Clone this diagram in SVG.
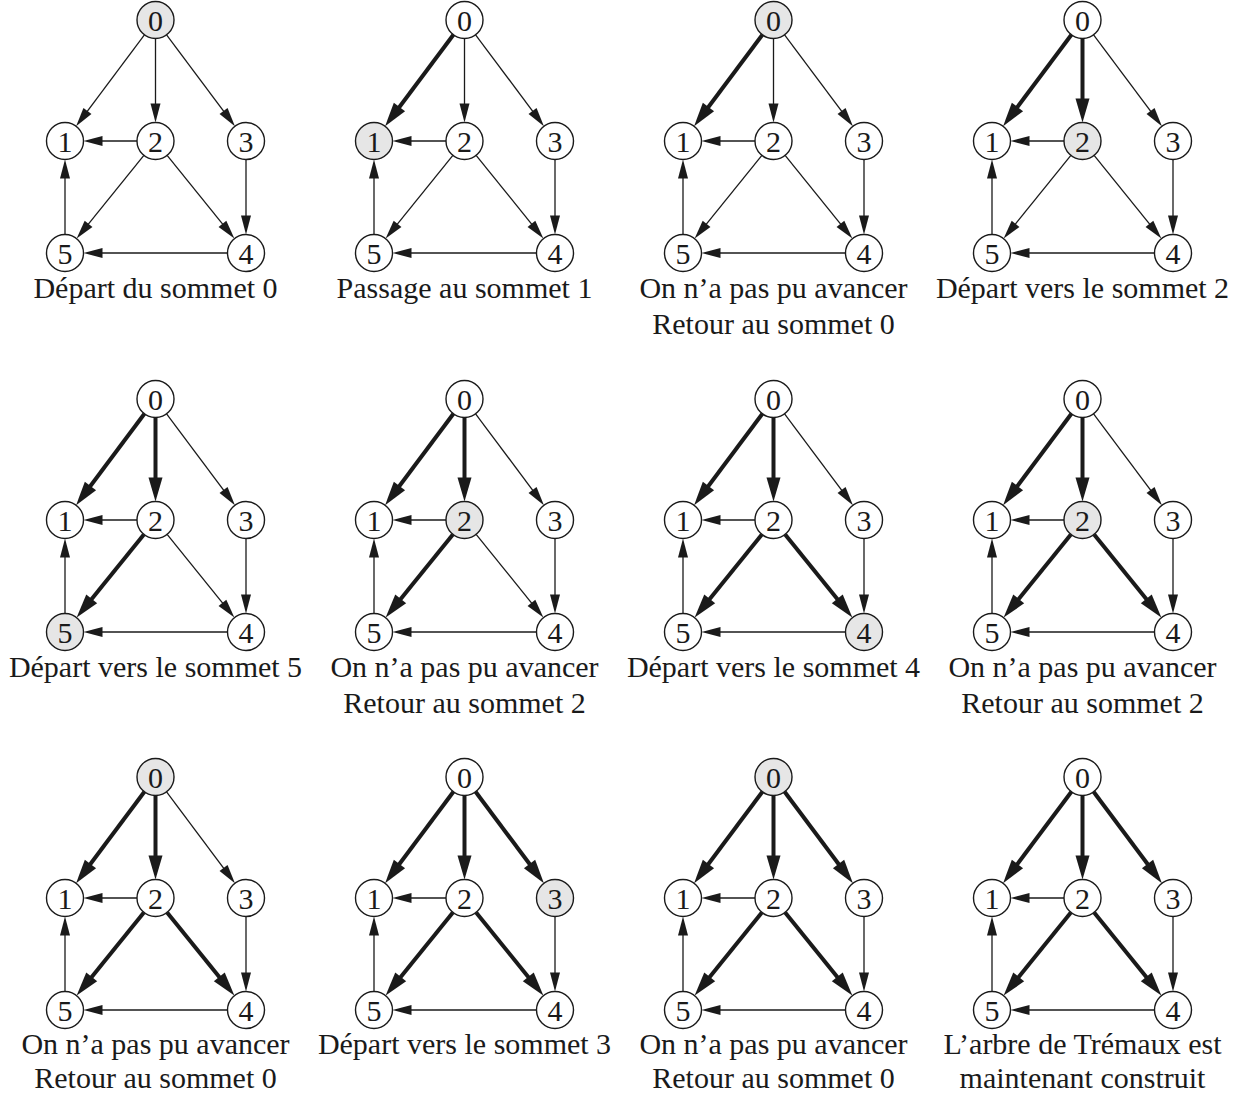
<svg xmlns="http://www.w3.org/2000/svg" width="1235" height="1095" viewBox="0 0 1235 1095">
<defs>
<style>
.bg{fill:#ffffff}
.edges line{stroke:#1a1a1a;stroke-width:1.3;fill:none;marker-end:url(#ah)}
.edges line.b{stroke-width:4;marker-end:url(#ahb)}
.node circle{fill:#ffffff;stroke:#1a1a1a;stroke-width:1.4}
.node.hl circle{fill:#e6e6e6}
.node text{font-family:"Liberation Serif","DejaVu Serif",serif;font-size:30px;fill:#1a1a1a;text-anchor:middle}
.lbl{font-family:"Liberation Serif","DejaVu Serif",serif;font-size:30px;fill:#1a1a1a;text-anchor:middle}
</style>
<marker id="ah" markerUnits="userSpaceOnUse" markerWidth="20" markerHeight="10" refX="1" refY="5" orient="auto" overflow="visible"><path d="M0,0 L19,5 L0,10 z" fill="#1a1a1a"/></marker>
<marker id="ahb" markerUnits="userSpaceOnUse" markerWidth="24" markerHeight="14" refX="1" refY="7" orient="auto" overflow="visible"><path d="M0,0 L24,7 L0,14 z" fill="#1a1a1a"/></marker>
</defs>
<rect class="bg" x="0" y="0" width="1235" height="1095"/>

<!-- Panel 1 -->
<g id="panel1" transform="translate(0,0)">
<g id="panel1-connectors" class="edges">
<line x1="144.42" y1="34.81" x2="86.86" y2="111.78"/>
<line x1="155.5" y1="38.5" x2="155.5" y2="104.5"/>
<line x1="166.58" y1="34.81" x2="224.14" y2="111.78"/>
<line x1="137" y1="141" x2="101.5" y2="141"/>
<line x1="143.87" y1="155.39" x2="87.94" y2="224.61"/>
<line x1="167.13" y1="155.39" x2="223.06" y2="224.61"/>
<line x1="246" y1="159.5" x2="246" y2="216.5"/>
<line x1="65" y1="234.5" x2="65" y2="177.5"/>
<line x1="227.5" y1="253" x2="101.5" y2="253"/>
</g>
<g id="panel1-node0" class="node hl"><circle cx="155.5" cy="20" r="18.5"/><text x="155.5" y="30.5">0</text></g>
<g id="panel1-node1" class="node"><circle cx="65" cy="141" r="18.5"/><text x="65" y="151.5">1</text></g>
<g id="panel1-node2" class="node"><circle cx="155.5" cy="141" r="18.5"/><text x="155.5" y="151.5">2</text></g>
<g id="panel1-node3" class="node"><circle cx="246" cy="141" r="18.5"/><text x="246" y="151.5">3</text></g>
<g id="panel1-node4" class="node"><circle cx="246" cy="253" r="18.5"/><text x="246" y="263.5">4</text></g>
<g id="panel1-node5" class="node"><circle cx="65" cy="253" r="18.5"/><text x="65" y="263.5">5</text></g>
<text class="lbl" x="155.5" y="298">Départ du sommet 0</text>
</g>

<!-- Panel 2 -->
<g id="panel2" transform="translate(309,0)">
<g id="panel2-connectors" class="edges">
<line class="b" x1="144.42" y1="34.81" x2="89.86" y2="107.77"/>
<line x1="155.5" y1="38.5" x2="155.5" y2="104.5"/>
<line x1="166.58" y1="34.81" x2="224.14" y2="111.78"/>
<line x1="137" y1="141" x2="101.5" y2="141"/>
<line x1="143.87" y1="155.39" x2="87.94" y2="224.61"/>
<line x1="167.13" y1="155.39" x2="223.06" y2="224.61"/>
<line x1="246" y1="159.5" x2="246" y2="216.5"/>
<line x1="65" y1="234.5" x2="65" y2="177.5"/>
<line x1="227.5" y1="253" x2="101.5" y2="253"/>
</g>
<g id="panel2-node0" class="node"><circle cx="155.5" cy="20" r="18.5"/><text x="155.5" y="30.5">0</text></g>
<g id="panel2-node1" class="node hl"><circle cx="65" cy="141" r="18.5"/><text x="65" y="151.5">1</text></g>
<g id="panel2-node2" class="node"><circle cx="155.5" cy="141" r="18.5"/><text x="155.5" y="151.5">2</text></g>
<g id="panel2-node3" class="node"><circle cx="246" cy="141" r="18.5"/><text x="246" y="151.5">3</text></g>
<g id="panel2-node4" class="node"><circle cx="246" cy="253" r="18.5"/><text x="246" y="263.5">4</text></g>
<g id="panel2-node5" class="node"><circle cx="65" cy="253" r="18.5"/><text x="65" y="263.5">5</text></g>
<text class="lbl" x="155.5" y="298">Passage au sommet 1</text>
</g>

<!-- Panel 3 -->
<g id="panel3" transform="translate(618,0)">
<g id="panel3-connectors" class="edges">
<line class="b" x1="144.42" y1="34.81" x2="89.86" y2="107.77"/>
<line x1="155.5" y1="38.5" x2="155.5" y2="104.5"/>
<line x1="166.58" y1="34.81" x2="224.14" y2="111.78"/>
<line x1="137" y1="141" x2="101.5" y2="141"/>
<line x1="143.87" y1="155.39" x2="87.94" y2="224.61"/>
<line x1="167.13" y1="155.39" x2="223.06" y2="224.61"/>
<line x1="246" y1="159.5" x2="246" y2="216.5"/>
<line x1="65" y1="234.5" x2="65" y2="177.5"/>
<line x1="227.5" y1="253" x2="101.5" y2="253"/>
</g>
<g id="panel3-node0" class="node hl"><circle cx="155.5" cy="20" r="18.5"/><text x="155.5" y="30.5">0</text></g>
<g id="panel3-node1" class="node"><circle cx="65" cy="141" r="18.5"/><text x="65" y="151.5">1</text></g>
<g id="panel3-node2" class="node"><circle cx="155.5" cy="141" r="18.5"/><text x="155.5" y="151.5">2</text></g>
<g id="panel3-node3" class="node"><circle cx="246" cy="141" r="18.5"/><text x="246" y="151.5">3</text></g>
<g id="panel3-node4" class="node"><circle cx="246" cy="253" r="18.5"/><text x="246" y="263.5">4</text></g>
<g id="panel3-node5" class="node"><circle cx="65" cy="253" r="18.5"/><text x="65" y="263.5">5</text></g>
<text class="lbl" x="155.5" y="298">On n’a pas pu avancer</text>
<text class="lbl" x="155.5" y="334">Retour au sommet 0</text>
</g>

<!-- Panel 4 -->
<g id="panel4" transform="translate(927,0)">
<g id="panel4-connectors" class="edges">
<line class="b" x1="144.42" y1="34.81" x2="89.86" y2="107.77"/>
<line class="b" x1="155.5" y1="38.5" x2="155.5" y2="99.5"/>
<line x1="166.58" y1="34.81" x2="224.14" y2="111.78"/>
<line x1="137" y1="141" x2="101.5" y2="141"/>
<line x1="143.87" y1="155.39" x2="87.94" y2="224.61"/>
<line x1="167.13" y1="155.39" x2="223.06" y2="224.61"/>
<line x1="246" y1="159.5" x2="246" y2="216.5"/>
<line x1="65" y1="234.5" x2="65" y2="177.5"/>
<line x1="227.5" y1="253" x2="101.5" y2="253"/>
</g>
<g id="panel4-node0" class="node"><circle cx="155.5" cy="20" r="18.5"/><text x="155.5" y="30.5">0</text></g>
<g id="panel4-node1" class="node"><circle cx="65" cy="141" r="18.5"/><text x="65" y="151.5">1</text></g>
<g id="panel4-node2" class="node hl"><circle cx="155.5" cy="141" r="18.5"/><text x="155.5" y="151.5">2</text></g>
<g id="panel4-node3" class="node"><circle cx="246" cy="141" r="18.5"/><text x="246" y="151.5">3</text></g>
<g id="panel4-node4" class="node"><circle cx="246" cy="253" r="18.5"/><text x="246" y="263.5">4</text></g>
<g id="panel4-node5" class="node"><circle cx="65" cy="253" r="18.5"/><text x="65" y="263.5">5</text></g>
<text class="lbl" x="155.5" y="298">Départ vers le sommet 2</text>
</g>

<!-- Panel 5 -->
<g id="panel5" transform="translate(0,379)">
<g id="panel5-connectors" class="edges">
<line class="b" x1="144.42" y1="34.81" x2="89.86" y2="107.77"/>
<line class="b" x1="155.5" y1="38.5" x2="155.5" y2="99.5"/>
<line x1="166.58" y1="34.81" x2="224.14" y2="111.78"/>
<line x1="137" y1="141" x2="101.5" y2="141"/>
<line class="b" x1="143.87" y1="155.39" x2="91.09" y2="220.72"/>
<line x1="167.13" y1="155.39" x2="223.06" y2="224.61"/>
<line x1="246" y1="159.5" x2="246" y2="216.5"/>
<line x1="65" y1="234.5" x2="65" y2="177.5"/>
<line x1="227.5" y1="253" x2="101.5" y2="253"/>
</g>
<g id="panel5-node0" class="node"><circle cx="155.5" cy="20" r="18.5"/><text x="155.5" y="30.5">0</text></g>
<g id="panel5-node1" class="node"><circle cx="65" cy="141" r="18.5"/><text x="65" y="151.5">1</text></g>
<g id="panel5-node2" class="node"><circle cx="155.5" cy="141" r="18.5"/><text x="155.5" y="151.5">2</text></g>
<g id="panel5-node3" class="node"><circle cx="246" cy="141" r="18.5"/><text x="246" y="151.5">3</text></g>
<g id="panel5-node4" class="node"><circle cx="246" cy="253" r="18.5"/><text x="246" y="263.5">4</text></g>
<g id="panel5-node5" class="node hl"><circle cx="65" cy="253" r="18.5"/><text x="65" y="263.5">5</text></g>
<text class="lbl" x="155.5" y="298">Départ vers le sommet 5</text>
</g>

<!-- Panel 6 -->
<g id="panel6" transform="translate(309,379)">
<g id="panel6-connectors" class="edges">
<line class="b" x1="144.42" y1="34.81" x2="89.86" y2="107.77"/>
<line class="b" x1="155.5" y1="38.5" x2="155.5" y2="99.5"/>
<line x1="166.58" y1="34.81" x2="224.14" y2="111.78"/>
<line x1="137" y1="141" x2="101.5" y2="141"/>
<line class="b" x1="143.87" y1="155.39" x2="91.09" y2="220.72"/>
<line x1="167.13" y1="155.39" x2="223.06" y2="224.61"/>
<line x1="246" y1="159.5" x2="246" y2="216.5"/>
<line x1="65" y1="234.5" x2="65" y2="177.5"/>
<line x1="227.5" y1="253" x2="101.5" y2="253"/>
</g>
<g id="panel6-node0" class="node"><circle cx="155.5" cy="20" r="18.5"/><text x="155.5" y="30.5">0</text></g>
<g id="panel6-node1" class="node"><circle cx="65" cy="141" r="18.5"/><text x="65" y="151.5">1</text></g>
<g id="panel6-node2" class="node hl"><circle cx="155.5" cy="141" r="18.5"/><text x="155.5" y="151.5">2</text></g>
<g id="panel6-node3" class="node"><circle cx="246" cy="141" r="18.5"/><text x="246" y="151.5">3</text></g>
<g id="panel6-node4" class="node"><circle cx="246" cy="253" r="18.5"/><text x="246" y="263.5">4</text></g>
<g id="panel6-node5" class="node"><circle cx="65" cy="253" r="18.5"/><text x="65" y="263.5">5</text></g>
<text class="lbl" x="155.5" y="298">On n’a pas pu avancer</text>
<text class="lbl" x="155.5" y="334">Retour au sommet 2</text>
</g>

<!-- Panel 7 -->
<g id="panel7" transform="translate(618,379)">
<g id="panel7-connectors" class="edges">
<line class="b" x1="144.42" y1="34.81" x2="89.86" y2="107.77"/>
<line class="b" x1="155.5" y1="38.5" x2="155.5" y2="99.5"/>
<line x1="166.58" y1="34.81" x2="224.14" y2="111.78"/>
<line x1="137" y1="141" x2="101.5" y2="141"/>
<line class="b" x1="143.87" y1="155.39" x2="91.09" y2="220.72"/>
<line class="b" x1="167.13" y1="155.39" x2="219.91" y2="220.72"/>
<line x1="246" y1="159.5" x2="246" y2="216.5"/>
<line x1="65" y1="234.5" x2="65" y2="177.5"/>
<line x1="227.5" y1="253" x2="101.5" y2="253"/>
</g>
<g id="panel7-node0" class="node"><circle cx="155.5" cy="20" r="18.5"/><text x="155.5" y="30.5">0</text></g>
<g id="panel7-node1" class="node"><circle cx="65" cy="141" r="18.5"/><text x="65" y="151.5">1</text></g>
<g id="panel7-node2" class="node"><circle cx="155.5" cy="141" r="18.5"/><text x="155.5" y="151.5">2</text></g>
<g id="panel7-node3" class="node"><circle cx="246" cy="141" r="18.5"/><text x="246" y="151.5">3</text></g>
<g id="panel7-node4" class="node hl"><circle cx="246" cy="253" r="18.5"/><text x="246" y="263.5">4</text></g>
<g id="panel7-node5" class="node"><circle cx="65" cy="253" r="18.5"/><text x="65" y="263.5">5</text></g>
<text class="lbl" x="155.5" y="298">Départ vers le sommet 4</text>
</g>

<!-- Panel 8 -->
<g id="panel8" transform="translate(927,379)">
<g id="panel8-connectors" class="edges">
<line class="b" x1="144.42" y1="34.81" x2="89.86" y2="107.77"/>
<line class="b" x1="155.5" y1="38.5" x2="155.5" y2="99.5"/>
<line x1="166.58" y1="34.81" x2="224.14" y2="111.78"/>
<line x1="137" y1="141" x2="101.5" y2="141"/>
<line class="b" x1="143.87" y1="155.39" x2="91.09" y2="220.72"/>
<line class="b" x1="167.13" y1="155.39" x2="219.91" y2="220.72"/>
<line x1="246" y1="159.5" x2="246" y2="216.5"/>
<line x1="65" y1="234.5" x2="65" y2="177.5"/>
<line x1="227.5" y1="253" x2="101.5" y2="253"/>
</g>
<g id="panel8-node0" class="node"><circle cx="155.5" cy="20" r="18.5"/><text x="155.5" y="30.5">0</text></g>
<g id="panel8-node1" class="node"><circle cx="65" cy="141" r="18.5"/><text x="65" y="151.5">1</text></g>
<g id="panel8-node2" class="node hl"><circle cx="155.5" cy="141" r="18.5"/><text x="155.5" y="151.5">2</text></g>
<g id="panel8-node3" class="node"><circle cx="246" cy="141" r="18.5"/><text x="246" y="151.5">3</text></g>
<g id="panel8-node4" class="node"><circle cx="246" cy="253" r="18.5"/><text x="246" y="263.5">4</text></g>
<g id="panel8-node5" class="node"><circle cx="65" cy="253" r="18.5"/><text x="65" y="263.5">5</text></g>
<text class="lbl" x="155.5" y="298">On n’a pas pu avancer</text>
<text class="lbl" x="155.5" y="334">Retour au sommet 2</text>
</g>

<!-- Panel 9 -->
<g id="panel9" transform="translate(0,757)">
<g id="panel9-connectors" class="edges">
<line class="b" x1="144.42" y1="34.81" x2="89.86" y2="107.77"/>
<line class="b" x1="155.5" y1="38.5" x2="155.5" y2="99.5"/>
<line x1="166.58" y1="34.81" x2="224.14" y2="111.78"/>
<line x1="137" y1="141" x2="101.5" y2="141"/>
<line class="b" x1="143.87" y1="155.39" x2="91.09" y2="220.72"/>
<line class="b" x1="167.13" y1="155.39" x2="219.91" y2="220.72"/>
<line x1="246" y1="159.5" x2="246" y2="216.5"/>
<line x1="65" y1="234.5" x2="65" y2="177.5"/>
<line x1="227.5" y1="253" x2="101.5" y2="253"/>
</g>
<g id="panel9-node0" class="node hl"><circle cx="155.5" cy="20" r="18.5"/><text x="155.5" y="30.5">0</text></g>
<g id="panel9-node1" class="node"><circle cx="65" cy="141" r="18.5"/><text x="65" y="151.5">1</text></g>
<g id="panel9-node2" class="node"><circle cx="155.5" cy="141" r="18.5"/><text x="155.5" y="151.5">2</text></g>
<g id="panel9-node3" class="node"><circle cx="246" cy="141" r="18.5"/><text x="246" y="151.5">3</text></g>
<g id="panel9-node4" class="node"><circle cx="246" cy="253" r="18.5"/><text x="246" y="263.5">4</text></g>
<g id="panel9-node5" class="node"><circle cx="65" cy="253" r="18.5"/><text x="65" y="263.5">5</text></g>
<text class="lbl" x="155.5" y="297">On n’a pas pu avancer</text>
<text class="lbl" x="155.5" y="331">Retour au sommet 0</text>
</g>

<!-- Panel 10 -->
<g id="panel10" transform="translate(309,757)">
<g id="panel10-connectors" class="edges">
<line class="b" x1="144.42" y1="34.81" x2="89.86" y2="107.77"/>
<line class="b" x1="155.5" y1="38.5" x2="155.5" y2="99.5"/>
<line class="b" x1="166.58" y1="34.81" x2="221.14" y2="107.77"/>
<line x1="137" y1="141" x2="101.5" y2="141"/>
<line class="b" x1="143.87" y1="155.39" x2="91.09" y2="220.72"/>
<line class="b" x1="167.13" y1="155.39" x2="219.91" y2="220.72"/>
<line x1="246" y1="159.5" x2="246" y2="216.5"/>
<line x1="65" y1="234.5" x2="65" y2="177.5"/>
<line x1="227.5" y1="253" x2="101.5" y2="253"/>
</g>
<g id="panel10-node0" class="node"><circle cx="155.5" cy="20" r="18.5"/><text x="155.5" y="30.5">0</text></g>
<g id="panel10-node1" class="node"><circle cx="65" cy="141" r="18.5"/><text x="65" y="151.5">1</text></g>
<g id="panel10-node2" class="node"><circle cx="155.5" cy="141" r="18.5"/><text x="155.5" y="151.5">2</text></g>
<g id="panel10-node3" class="node hl"><circle cx="246" cy="141" r="18.5"/><text x="246" y="151.5">3</text></g>
<g id="panel10-node4" class="node"><circle cx="246" cy="253" r="18.5"/><text x="246" y="263.5">4</text></g>
<g id="panel10-node5" class="node"><circle cx="65" cy="253" r="18.5"/><text x="65" y="263.5">5</text></g>
<text class="lbl" x="155.5" y="297">Départ vers le sommet 3</text>
</g>

<!-- Panel 11 -->
<g id="panel11" transform="translate(618,757)">
<g id="panel11-connectors" class="edges">
<line class="b" x1="144.42" y1="34.81" x2="89.86" y2="107.77"/>
<line class="b" x1="155.5" y1="38.5" x2="155.5" y2="99.5"/>
<line class="b" x1="166.58" y1="34.81" x2="221.14" y2="107.77"/>
<line x1="137" y1="141" x2="101.5" y2="141"/>
<line class="b" x1="143.87" y1="155.39" x2="91.09" y2="220.72"/>
<line class="b" x1="167.13" y1="155.39" x2="219.91" y2="220.72"/>
<line x1="246" y1="159.5" x2="246" y2="216.5"/>
<line x1="65" y1="234.5" x2="65" y2="177.5"/>
<line x1="227.5" y1="253" x2="101.5" y2="253"/>
</g>
<g id="panel11-node0" class="node hl"><circle cx="155.5" cy="20" r="18.5"/><text x="155.5" y="30.5">0</text></g>
<g id="panel11-node1" class="node"><circle cx="65" cy="141" r="18.5"/><text x="65" y="151.5">1</text></g>
<g id="panel11-node2" class="node"><circle cx="155.5" cy="141" r="18.5"/><text x="155.5" y="151.5">2</text></g>
<g id="panel11-node3" class="node"><circle cx="246" cy="141" r="18.5"/><text x="246" y="151.5">3</text></g>
<g id="panel11-node4" class="node"><circle cx="246" cy="253" r="18.5"/><text x="246" y="263.5">4</text></g>
<g id="panel11-node5" class="node"><circle cx="65" cy="253" r="18.5"/><text x="65" y="263.5">5</text></g>
<text class="lbl" x="155.5" y="297">On n’a pas pu avancer</text>
<text class="lbl" x="155.5" y="331">Retour au sommet 0</text>
</g>

<!-- Panel 12 -->
<g id="panel12" transform="translate(927,757)">
<g id="panel12-connectors" class="edges">
<line class="b" x1="144.42" y1="34.81" x2="89.86" y2="107.77"/>
<line class="b" x1="155.5" y1="38.5" x2="155.5" y2="99.5"/>
<line class="b" x1="166.58" y1="34.81" x2="221.14" y2="107.77"/>
<line x1="137" y1="141" x2="101.5" y2="141"/>
<line class="b" x1="143.87" y1="155.39" x2="91.09" y2="220.72"/>
<line class="b" x1="167.13" y1="155.39" x2="219.91" y2="220.72"/>
<line x1="246" y1="159.5" x2="246" y2="216.5"/>
<line x1="65" y1="234.5" x2="65" y2="177.5"/>
<line x1="227.5" y1="253" x2="101.5" y2="253"/>
</g>
<g id="panel12-node0" class="node"><circle cx="155.5" cy="20" r="18.5"/><text x="155.5" y="30.5">0</text></g>
<g id="panel12-node1" class="node"><circle cx="65" cy="141" r="18.5"/><text x="65" y="151.5">1</text></g>
<g id="panel12-node2" class="node"><circle cx="155.5" cy="141" r="18.5"/><text x="155.5" y="151.5">2</text></g>
<g id="panel12-node3" class="node"><circle cx="246" cy="141" r="18.5"/><text x="246" y="151.5">3</text></g>
<g id="panel12-node4" class="node"><circle cx="246" cy="253" r="18.5"/><text x="246" y="263.5">4</text></g>
<g id="panel12-node5" class="node"><circle cx="65" cy="253" r="18.5"/><text x="65" y="263.5">5</text></g>
<text class="lbl" x="155.5" y="297">L’arbre de Trémaux est</text>
<text class="lbl" x="155.5" y="331">maintenant construit</text>
</g>
</svg>
